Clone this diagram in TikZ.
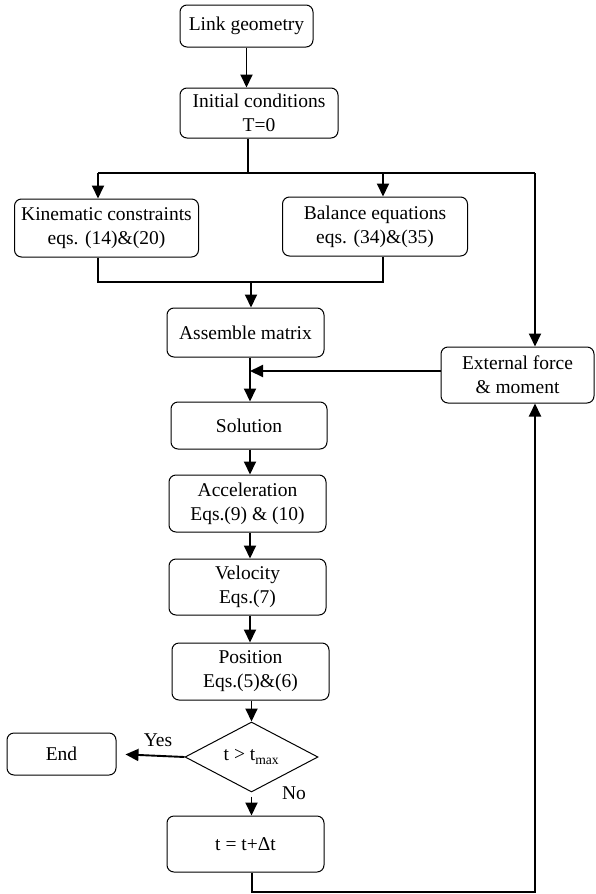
\documentclass[tikz,border=0pt]{standalone}
\usepackage{fontspec}
\setmainfont{Liberation Serif}
\usetikzlibrary{arrows.meta,shapes.geometric}
\begin{document}
\begin{tikzpicture}[x=1pt,y=-1pt,
 box/.style={draw, rounded corners=7pt, line width=1pt, inner sep=0pt, align=center, font=\fontsize{19.5}{24}\selectfont},
 decbox/.style={draw, diamond, line width=1pt, inner sep=0pt, minimum width=133pt, minimum height=58pt, font=\fontsize{19.5}{24}\selectfont},
 lbl/.style={inner sep=0pt, font=\fontsize{19.5}{24}\selectfont},
 conn/.style={line width=1.9pt, -{Triangle[length=13pt,width=12pt]}},
 plainline/.style={line width=1.9pt}]
\useasboundingbox (0,0) rectangle (595,894);
\node[box, minimum width=133pt, minimum height=42pt] (link) at (246.5,26) {Link geometry};
\node[box, minimum width=158pt, minimum height=50pt] (init) at (259,113) {Initial conditions\\T=0};
\node[box, minimum width=184pt, minimum height=58pt] (kin) at (106.5,228) {Kinematic constraints\\eqs. (14)\&(20)};
\node[box, minimum width=185pt, minimum height=59pt] (bal) at (375,226.5) {Balance equations\\eqs. (34)\&(35)};
\node[box, minimum width=157pt, minimum height=49pt] (asm) at (245.5,332.5) {Assemble matrix};
\node[box, minimum width=153pt, minimum height=56pt] (ext) at (517.5,375) {External force\\\& moment};
\node[box, minimum width=156pt, minimum height=47pt] (sol) at (249,425.5) {Solution};
\node[box, minimum width=157pt, minimum height=57pt] (acc) at (247.5,503.5) {Acceleration\\Eqs.(9) \& (10)};
\node[box, minimum width=157pt, minimum height=56pt] (vel) at (247.5,587) {Velocity\\Eqs.(7)};
\node[box, minimum width=157pt, minimum height=57pt] (pos) at (250.5,671.5) {Position\\Eqs.(5)\&(6)};
\node[decbox] (dec) at (251.5,757) {t > t\textsubscript{max}};
\node[box, minimum width=109pt, minimum height=42pt] (end) at (61.5,754) {End};
\node[box, minimum width=157pt, minimum height=56pt] (tb) at (245.5,844) {t = t+Δt};
\node[lbl] (yes) at (158,740) {Yes};
\node[lbl] (no) at (294,793) {No};
\coordinate (split) at (248,173);
\coordinate (kl) at (98,173);
\coordinate (bm) at (383,173);
\coordinate (br) at (535,173);
\coordinate (jn) at (251,282);
\coordinate (mx) at (250,371);
\coordinate (bot) at (252,892);
\coordinate (rt) at (535,892);
\draw[conn] (link.south) -- (link.south |- init.north);
\draw[plainline] (split |- init.south) -- (split);
\draw[plainline] (kl) -- (br);
\draw[conn] (kl) -- (kl |- kin.north);
\draw[conn] (bm) -- (bm |- bal.north);
\draw[conn] (br) -- (br |- ext.north);
\draw[plainline] (kl |- kin.south) -- (kl |- jn) -- (bm |- jn) -- (bm |- bal.south);
\draw[conn] (jn) -- (jn |- asm.north);
\draw[conn] (mx |- asm.south) -- (mx |- sol.north);
\draw[conn] (ext.west |- mx) -- (mx);
\draw[conn] (mx |- sol.south) -- (mx |- acc.north);
\draw[conn] (mx |- acc.south) -- (mx |- vel.north);
\draw[conn] (mx |- vel.south) -- (mx |- pos.north);
\draw[conn] (dec.north |- pos.south) -- (dec.north);
\draw[conn, shorten >=9pt] (dec.west) -- (end.east);
\draw[conn, shorten <=4pt] (dec.south) -- (dec.south |- tb.north);
\draw[conn] (bot |- tb.south) -- (bot) -- (rt) -- (rt |- ext.south);
\end{tikzpicture}
\end{document}
